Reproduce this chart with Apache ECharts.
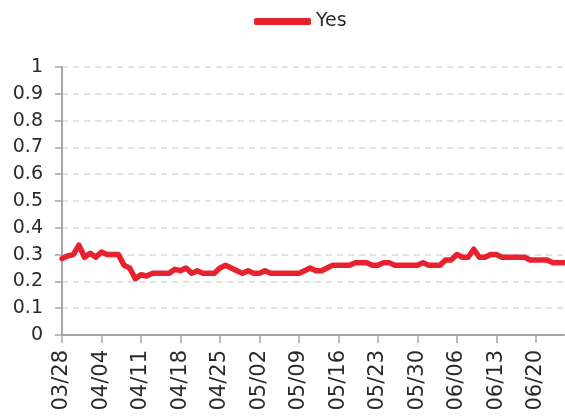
<!DOCTYPE html>
<html>
<head>
<meta charset="utf-8">
<script src="https://cdn.jsdelivr.net/npm/echarts@6/dist/echarts.min.js"></script>
<style>html,body{margin:0;padding:0;background:#fff}#c{width:565px;height:416px}</style>
</head>
<body>
<div id="c"></div>
<script>
// Data
const startDate = [3, 28];
const dayCount = 90;
const seriesName = 'Yes';
const yesValues = [
  0.285, 0.295, 0.30, 0.335, 0.29, 0.305, 0.29, 0.31, 0.30, 0.30,
  0.30, 0.26, 0.25, 0.21, 0.225, 0.22, 0.23, 0.23, 0.23, 0.23,
  0.245, 0.24, 0.25, 0.23, 0.24, 0.23, 0.23, 0.23, 0.25, 0.26,
  0.25, 0.24, 0.23, 0.24, 0.23, 0.23, 0.24, 0.23, 0.23, 0.23,
  0.23, 0.23, 0.23, 0.24, 0.25, 0.24, 0.24, 0.25, 0.26, 0.26,
  0.26, 0.26, 0.27, 0.27, 0.27, 0.26, 0.26, 0.27, 0.27, 0.26,
  0.26, 0.26, 0.26, 0.26, 0.27, 0.26, 0.26, 0.26, 0.28, 0.28,
  0.30, 0.29, 0.29, 0.32, 0.29, 0.29, 0.30, 0.30, 0.29, 0.29,
  0.29, 0.29, 0.29, 0.28, 0.28, 0.28, 0.28, 0.27, 0.27, 0.27
];

// Build category labels MM/DD
const monthDays = {3: 31, 4: 30, 5: 31, 6: 30};
const categories = [];
let m = startDate[0], d = startDate[1];
for (let i = 0; i < dayCount; i++) {
  categories.push(String(m).padStart(2, '0') + '/' + String(d).padStart(2, '0'));
  d++;
  if (d > monthDays[m]) { d = 1; m++; }
}

const font = '"DejaVu Sans", sans-serif';
const textColor = '#2a2a2a';
const chart = echarts.init(document.getElementById('c'));
chart.setOption({
  animation: false,
  legend: {
    top: 7,
    left: 249,
    icon: 'roundRect',
    itemWidth: 57,
    itemHeight: 7,
    textStyle: { fontSize: 19, color: textColor, fontFamily: font },
    data: [seriesName]
  },
  grid: { left: 62, right: 1, top: 67, bottom: 81, containLabel: false },
  xAxis: {
    type: 'category',
    data: categories,
    boundaryGap: false,
    axisLine: { lineStyle: { color: '#a6a6a6', width: 2 } },
    axisTick: { show: true, interval: 6, length: 8, lineStyle: { color: '#a6a6a6', width: 1.5 } },
    axisLabel: {
      interval: 6,
      rotate: 90,
      fontSize: 21,
      color: textColor,
      fontFamily: font,
      margin: 15
    },
    splitLine: { show: false }
  },
  yAxis: {
    type: 'value',
    min: 0,
    max: 1,
    interval: 0.1,
    axisLine: { show: true, lineStyle: { color: '#a6a6a6', width: 2 } },
    axisTick: { show: true, length: 7, lineStyle: { color: '#a6a6a6', width: 1.5 } },
    axisLabel: { fontSize: 19, color: textColor, fontFamily: font, margin: 19 },
    splitLine: { show: true, lineStyle: { color: '#d9d9d9', type: [6, 5], width: 1.5 } }
  },
  series: [{
    name: seriesName,
    type: 'line',
    data: yesValues,
    showSymbol: false,
    symbol: 'none',
    lineStyle: { color: '#e8212e', width: 5.5, join: 'round', cap: 'round' },
    itemStyle: { color: '#e8212e' }
  }]
});
</script>
</body>
</html>
